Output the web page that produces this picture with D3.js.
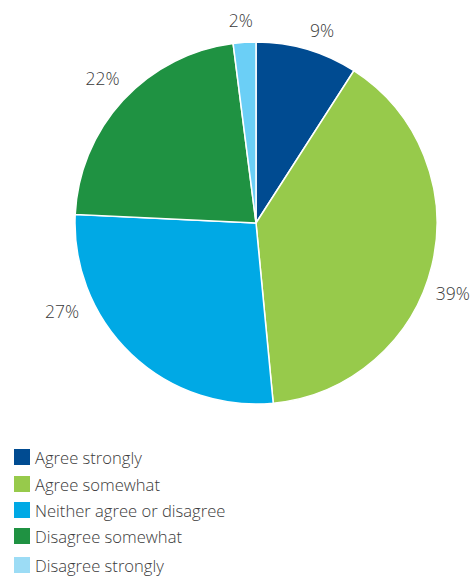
<!DOCTYPE html>
<html>
<head>
<meta charset="utf-8">
<script src="https://cdn.jsdelivr.net/npm/d3@7"></script>
<style>
  html, body { margin: 0; padding: 0; background: #fff; }
  svg { display: block; }
  text { font-family: "Open Sans", sans-serif; fill: #3a3a3a; }
</style>
</head>
<body>
<svg id="chart" width="471" height="576"></svg>
<script>
const categories = ["Agree strongly", "Agree somewhat", "Neither agree or disagree", "Disagree somewhat", "Disagree strongly"];
const values = [9, 39, 27, 22, 2];
const sliceColors = ["#004b91", "#97ca4b", "#00a9e5", "#1f9242", "#6bcff6"];
const legendColors = ["#004b91", "#97ca4b", "#00a9e5", "#1f9242", "#9cdcf5"];

// Percent-label placement: angular nudge (degrees) from each slice's mid-angle, and distance from centre
const labelNudgeDeg = [2.5, 6, 22, 0.6, -0.6];
const labelDist = [204, 209, 213, 211, 204];

const svg = d3.select("#chart");
const cx = 256, cy = 223, radius = 181;

const pie = d3.pie().sort(null).value(d => d.value);
const arcs = pie(categories.map((c, i) => ({ name: c, value: values[i], i })));

const arc = d3.arc().innerRadius(0).outerRadius(radius);

const g = svg.append("g").attr("transform", `translate(${cx},${cy})`);

g.selectAll("path.slice")
  .data(arcs)
  .join("path")
  .attr("class", "slice")
  .attr("d", arc)
  .attr("fill", d => sliceColors[d.data.i])
  .attr("stroke", "#fff")
  .attr("stroke-width", 1.5);

function labelPos(d) {
  const a = (d.startAngle + d.endAngle) / 2 + labelNudgeDeg[d.data.i] * Math.PI / 180;
  const r = labelDist[d.data.i];
  return [r * Math.sin(a), -r * Math.cos(a)];
}

g.selectAll("text.pct")
  .data(arcs)
  .join("text")
  .attr("class", "pct")
  .attr("transform", d => `translate(${labelPos(d)})`)
  .attr("text-anchor", "middle")
  .attr("dominant-baseline", "central")
  .style("font-size", "17.5px")
  .style("font-weight", 300)
  .text(d => d.data.value + "%");

// Legend
const legendY = [449, 476, 502, 528, 557];
const legend = svg.append("g");
const rows = legend.selectAll("g.row")
  .data(categories)
  .join("g")
  .attr("class", "row")
  .attr("transform", (d, i) => `translate(14,${legendY[i]})`);

rows.append("rect")
  .attr("width", 16)
  .attr("height", 16)
  .attr("fill", (d, i) => legendColors[i]);

rows.append("text")
  .attr("x", 21)
  .attr("y", 8.5)
  .attr("dominant-baseline", "central")
  .style("font-size", "16.6px")
  .style("font-weight", 300)
  .text(d => d);
</script>
</body>
</html>
